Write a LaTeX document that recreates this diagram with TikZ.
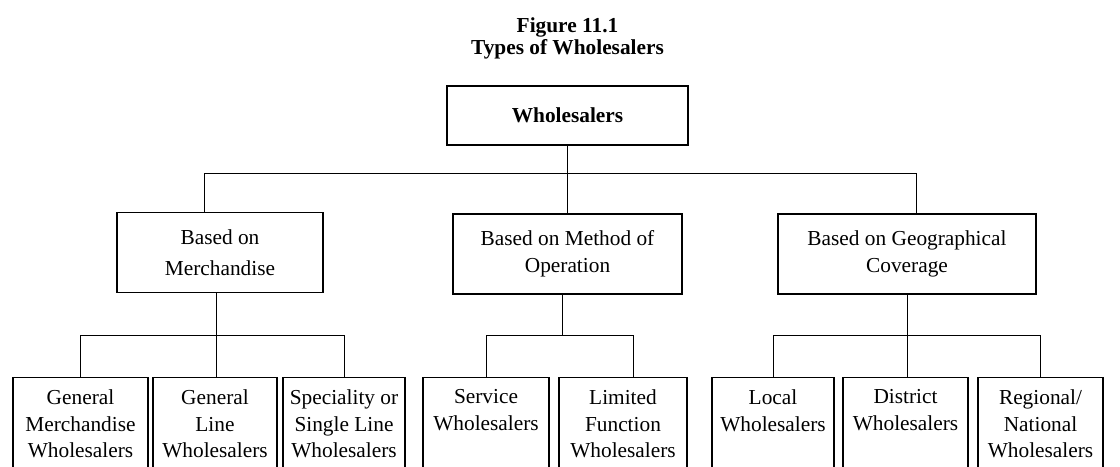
\documentclass[tikz,border=0pt]{standalone}
\usepackage{fontspec}
\setmainfont{Liberation Serif}
\usepackage{tikz}

\newcommand{\boxfont}{\fontsize{16}{20}\selectfont}
\newcommand{\stacktext}[2]{\parbox[c][78pt][t]{#1}{\centering #2}}

\tikzset{
  headbox/.style={draw, line width=1pt, minimum width=180.75pt, minimum height=44.25pt, font=\boxfont\bfseries},
  basisbox/.style={draw, line width=1pt, align=center, minimum height=60pt, font=\boxfont},
  leafbox/.style={draw, line width=0.9pt, anchor=north, inner xsep=0pt, inner ysep=9pt, font=\boxfont},
  link/.style={line width=0.7pt}
}

\begin{document}
\begin{tikzpicture}[x=0.75pt,y=0.75pt,yscale=-1,xscale=1]
\useasboundingbox (0,0) rectangle (1120,467);
\clip (0,0) rectangle (1120,467);

% Text Node
\node [align=center, font=\bfseries\fontsize{16}{17}\selectfont] (title) at (567.5,38.5) {Figure 11.1\\Types of Wholesalers};

%Shape: Rectangle
\node [headbox] (whole) at (567.5,115.5) {Wholesalers};

%Shape: Rectangle (second level)
\node [basisbox, minimum width=154.5pt] (merch) at (220,252.5) {Based on\\[3pt]Merchandise};
\node [basisbox, minimum width=171.75pt] (method) at (567.5,254) {Based on Method of\\Operation};
\node [basisbox, minimum width=193.5pt] (geo) at (907,254) {Based on Geographical\\Coverage};

%Shape: Rectangle (third level, open at the foot)
\node [leafbox] (genmerch) at (80.5,377) {\stacktext{101.25pt}{General\\Merchandise\\Wholesalers}};
\node [leafbox] (genline) at (215,377) {\stacktext{93pt}{General\\Line\\Wholesalers}};
\node [leafbox] (special) at (344,377) {\stacktext{91.5pt}{Speciality or\\Single Line\\Wholesalers}};
\node [leafbox] (service) at (486,377) {\stacktext{94.5pt}{Service\\Wholesalers}};
\node [leafbox] (limited) at (623,377) {\stacktext{96pt}{Limited\\Function\\Wholesalers}};
\node [leafbox] (local) at (773,377) {\stacktext{91.5pt}{Local\\Wholesalers}};
\node [leafbox] (district) at (905.5,377) {\stacktext{93.75pt}{District\\Wholesalers}};
\node [leafbox] (regional) at (1040.5,377) {\stacktext{93.75pt}{Regional/\\National\\Wholesalers}};

%Straight Lines
\coordinate (busA) at (0,173);
\coordinate (busB) at (0,335);
\draw [link] (whole.south) -- (whole.south |- method.north);
\draw [link] ([xshift=-12pt]merch.north) |- ([xshift=6.75pt]geo.north |- busA) -- ([xshift=6.75pt]geo.north);

\draw [link] ([xshift=-3pt]merch.south) -- ([xshift=-3pt]merch.south |- genline.north);
\draw [link] (genmerch.north) |- (busB -| special.north) -- (special.north);

\draw [link] ([xshift=-4pt]method.south) -- ([xshift=-4pt]method.south |- busB);
\draw [link] (service.north) |- ([xshift=8pt]limited.north |- busB) -- ([xshift=8pt]limited.north);

\draw [link] (geo.south) -- (geo.south |- district.north);
\draw [link] (local.north) |- (busB -| regional.north) -- (regional.north);

\end{tikzpicture}
\end{document}
